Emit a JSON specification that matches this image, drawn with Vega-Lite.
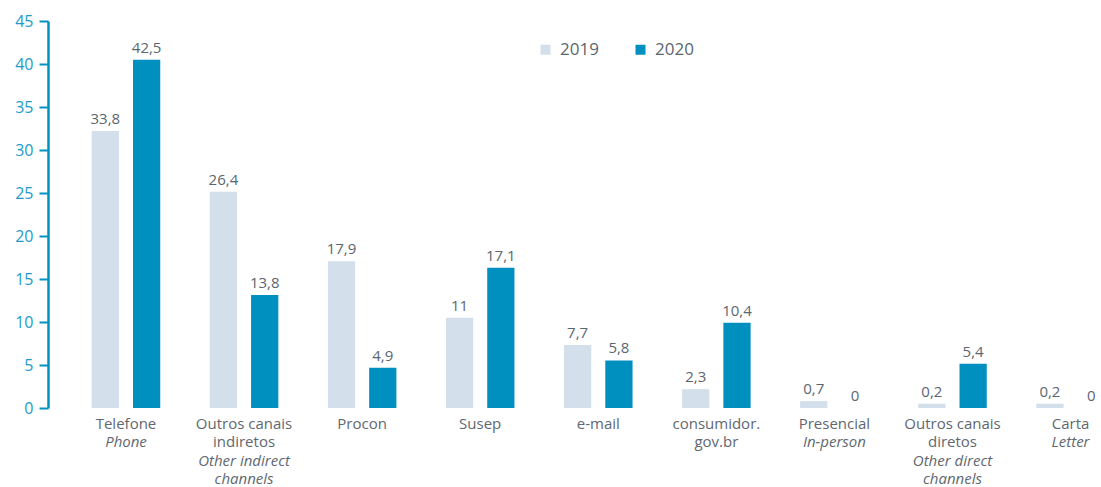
{
  "$schema": "https://vega.github.io/schema/vega-lite/v6.json",
  "width": 1053,
  "height": 387,
  "autosize": {"type": "none"},
  "padding": {"left": 48, "top": 21, "right": 0, "bottom": 79},
  "config": {"view": {"stroke": null}, "font": "Open Sans"},
  "data": {
    "values": [
      {"cat": "Telefone|Phone", "year": "2019", "h": 32.2, "label": "33,8"},
      {"cat": "Telefone|Phone", "year": "2020", "h": 40.5, "label": "42,5"},
      {"cat": "Outros canais/indiretos|Other indirect/channels", "year": "2019", "h": 25.15, "label": "26,4"},
      {"cat": "Outros canais/indiretos|Other indirect/channels", "year": "2020", "h": 13.15, "label": "13,8"},
      {"cat": "Procon|", "year": "2019", "h": 17.05, "label": "17,9"},
      {"cat": "Procon|", "year": "2020", "h": 4.67, "label": "4,9"},
      {"cat": "Susep|", "year": "2019", "h": 10.5, "label": "11"},
      {"cat": "Susep|", "year": "2020", "h": 16.3, "label": "17,1"},
      {"cat": "e-mail|", "year": "2019", "h": 7.34, "label": "7,7"},
      {"cat": "e-mail|", "year": "2020", "h": 5.53, "label": "5,8"},
      {"cat": "consumidor./gov.br|", "year": "2019", "h": 2.19, "label": "2,3"},
      {"cat": "consumidor./gov.br|", "year": "2020", "h": 9.91, "label": "10,4"},
      {"cat": "Presencial|In-person", "year": "2019", "h": 0.8, "label": "0,7"},
      {"cat": "Presencial|In-person", "year": "2020", "h": 0, "label": "0"},
      {"cat": "Outros canais/diretos|Other direct/channels", "year": "2019", "h": 0.5, "label": "0,2"},
      {"cat": "Outros canais/diretos|Other direct/channels", "year": "2020", "h": 5.15, "label": "5,4"},
      {"cat": "Carta|Letter", "year": "2019", "h": 0.5, "label": "0,2"},
      {"cat": "Carta|Letter", "year": "2020", "h": 0, "label": "0"}
    ]
  },
  "encoding": {
    "xOffset": {"field": "year", "type": "nominal", "scale": {"paddingInner": 0.34, "paddingOuter": 0.6}},
    "y": {
      "field": "h",
      "type": "quantitative",
      "scale": {"domain": [0, 45], "nice": false, "zero": true},
      "axis": {
        "title": null,
        "values": [0, 5, 10, 15, 20, 25, 30, 35, 40, 45],
        "grid": false,
        "domainColor": "#0092c0",
        "domainWidth": 2.5,
        "tickColor": "#0092c0",
        "tickWidth": 2,
        "tickSize": 9,
        "labelColor": "#1f9bcb",
        "labelFontSize": 16,
        "labelPadding": 6
      }
    }
  },
  "layer": [
    {
      "mark": {"type": "bar"},
      "encoding": {
        "x": {
          "field": "cat", "type": "nominal", "sort": null,
          "scale": {"range": [18.95, 1081.6], "paddingInner": 0, "paddingOuter": 0},
          "axis": {
            "orient": "bottom",
            "title": null,
            "domain": false,
            "ticks": false,
            "labelAngle": 0,
            "labelColor": "#5f6870",
            "labelFontSize": 15,
            "labelLineHeight": 18.5,
            "labelPadding": 8,
            "labelExpr": "split(split(datum.value,'|')[0],'/')"
          }
        },
        "color": {
          "field": "year",
          "type": "nominal",
          "scale": {"domain": ["2019", "2020"], "range": ["#d3dfeb", "#0090c0"]},
          "legend": {
            "title": null,
            "orient": "none",
            "direction": "horizontal",
            "legendX": 489,
            "legendY": 20,
            "symbolType": "square",
            "symbolSize": 100,
            "symbolStrokeWidth": 0,
            "labelFontSize": 17,
            "labelColor": "#5b6670",
            "labelOffset": 6,
            "columnPadding": 33
          }
        }
      }
    },
    {
      "mark": {"type": "text", "dy": -7, "baseline": "alphabetic", "fontSize": 15, "color": "#5b6670"},
      "encoding": {
        "x": {"field": "cat", "type": "nominal", "sort": null, "axis": null},
        "text": {"field": "label"}
      }
    },
    {
      "mark": {"type": "text", "opacity": 0},
      "encoding": {
        "x": {
          "field": "cat", "type": "nominal", "sort": null,
          "axis": {
            "orient": "bottom",
            "title": null,
            "domain": false,
            "ticks": false,
            "labelAngle": 0,
            "labelColor": "#5f6870",
            "labelFontSize": 15,
            "labelFontStyle": "italic",
            "labelLineHeight": 18.5,
            "labelPadding": 26.5,
            "labelExpr": "split((length(split(split(datum.value,'|')[0],'/'))>1?'/':'')+split(datum.value,'|')[1],'/')"
          }
        },
        "text": {"value": ""}
      }
    }
  ],
  "resolve": {"axis": {"x": "independent"}}
}
